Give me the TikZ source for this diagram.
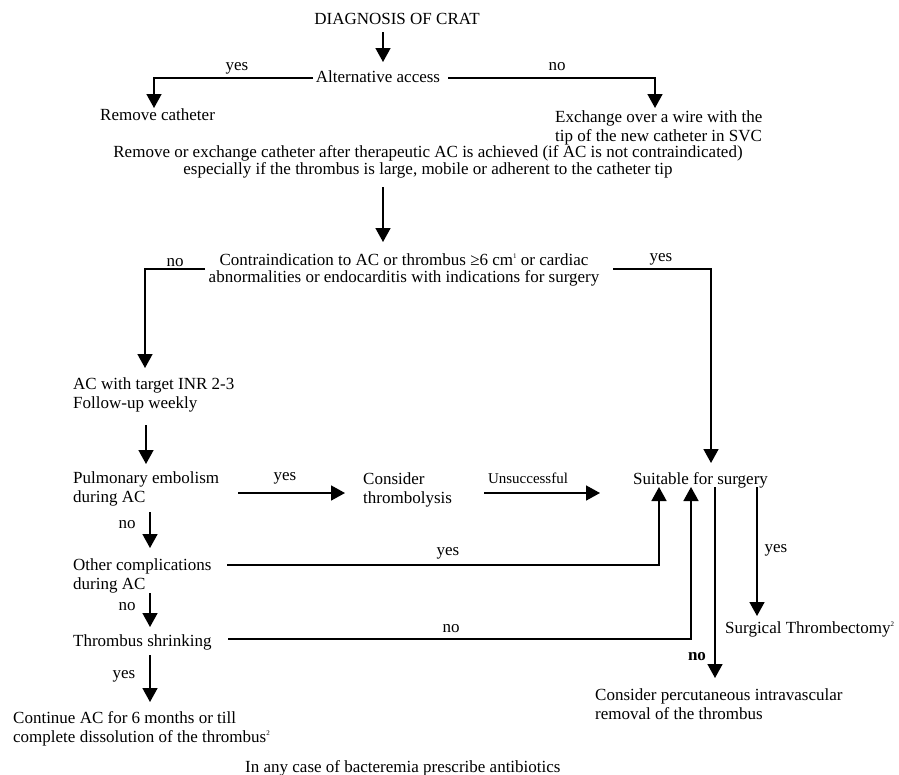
\documentclass[tikz,border=0pt]{standalone}
\usepackage{fontspec}
\setmainfont{Liberation Serif}
\usetikzlibrary{arrows.meta,calc}
\newcommand{\supx}[1]{\raisebox{0.85ex}{\fontsize{7}{7}\selectfont #1}}
\begin{document}
\begin{tikzpicture}[x=1pt,y=-1pt,
  txt/.style={inner sep=0pt, font=\fontsize{17}{19}\selectfont, anchor=base west, align=left},
  ctxt/.style={inner sep=0pt, font=\fontsize{17}{17}\selectfont, anchor=base, align=center},
  lbl/.style={inner sep=0pt, font=\fontsize{17}{19}\selectfont, anchor=base},
  ln/.style={line width=1.6pt},
  arr/.style={line width=1.6pt, -{Triangle[length=14pt,width=15pt]}}]
\useasboundingbox (0,0) rectangle (899,774);

% nodes (multi-line nodes are placed by the baseline of their last line)
\node[lbl] (diag) at (397,24) {DIAGNOSIS OF CRAT};
\node[lbl] (alt) at (378,82) {Alternative access};
\node[txt] (rem) at (100,120) {Remove catheter};
\node[txt] (exch) at (555,141) {Exchange over a wire with the\\tip of the new catheter in SVC};
\node[ctxt] (remex) at (428,174) {Remove or exchange catheter after therapeutic AC is achieved (if AC is not contraindicated)\\especially if the thrombus is large, mobile or adherent to the catheter tip};
\node[ctxt] (contra) at (404,282) {Contraindication to AC or thrombus ≥6 cm\supx{1} or cardiac\\abnormalities or endocarditis with indications for surgery};
\node[txt] (ac) at (73,408) {AC with target INR 2-3\\Follow-up weekly};
\node[txt] (pe) at (73,502) {Pulmonary embolism\\during AC};
\node[txt] (thr) at (363,503) {Consider\\thrombolysis};
\node[txt] (suit) at (633,484) {Suitable for surgery};
\node[txt] (oc) at (73,589) {Other complications\\during AC};
\node[txt] (ts) at (73,646) {Thrombus shrinking};
\node[txt] (cont) at (13,742) {Continue AC for 6 months or till\\complete dissolution of the thrombus\supx{2}};
\node[txt] (bact) at (245,772) {In any case of bacteremia prescribe antibiotics};
\node[txt] (surg) at (725,633) {Surgical Thrombectomy\supx{2}};
\node[txt] (perc) at (595,719) {Consider percutaneous intravascular\\removal of the thrombus};

% labels
\node[lbl] (l1) at (237,70) {yes};
\node[lbl] (l2) at (557,70) {no};
\node[lbl] (l3) at (175,266) {no};
\node[lbl] (l4) at (661,261) {yes};
\node[lbl] (l5) at (285,480) {yes};
\node[lbl, font=\fontsize{15}{15}\selectfont] (l6) at (528,483) {Unsuccessful};
\node[lbl] (l7) at (127,528) {no};
\node[lbl] (l8) at (448,555) {yes};
\node[lbl] (l9) at (127,610) {no};
\node[lbl] (l10) at (451,632) {no};
\node[lbl] (l11) at (124,678) {yes};
\node[lbl, font=\fontsize{17}{19}\selectfont\bfseries] (l12) at (697,660) {no};
\node[lbl] (l13) at (776,552) {yes};

% connectors
\draw[arr] ($(diag.base)+(-14,8)$) -- ($(alt.base)+(5,-20)$);
\draw[arr] ($(alt.base)+(-65,-4)$) -| ($(rem.base west)+(54,-12)$);
\draw[arr] ($(alt.base)+(70,-4)$) -| ($(exch.base west)+(100,-33)$);
\draw[arr] ($(remex.base)+(-45,13)$) -- ($(contra.base)+(-21,-40)$);
\draw[arr] ($(contra.base)+(-199,-13)$) -| ($(ac.base west)+(72,-40)$);
\draw[arr] ($(contra.base)+(209,-13)$) -| ($(suit.base west)+(78,-21)$);
\draw[arr] ($(ac.base west)+(73,17)$) -- ($(pe.base west)+(73,-38)$);
\draw[arr] ($(pe.base west)+(165,-9)$) -- ($(thr.base west)+(-18,-10)$);
\draw[arr] ($(thr.base west)+(121,-10)$) -- ($(suit.base west)+(-33,9)$);
\draw[arr] ($(pe.base west)+(77,10)$) -- ($(oc.base west)+(77,-41)$);
\draw[arr] ($(oc.base west)+(154,-24)$) -| ($(suit.base west)+(26,3)$);
\draw[arr] ($(oc.base west)+(77,4)$) -- ($(ts.base west)+(77,-19)$);
\draw[arr] ($(ts.base west)+(155,-7)$) -| ($(suit.base west)+(58,3)$);
\draw[arr] ($(ts.base west)+(77,9)$) -- ($(cont.base west)+(137,-40)$);
\draw[arr] ($(suit.base west)+(82,3)$) -- ($(perc.base west)+(120,-41)$);
\draw[arr] ($(suit.base west)+(124,3)$) -- ($(surg.base west)+(32,-17)$);
\end{tikzpicture}
\end{document}
